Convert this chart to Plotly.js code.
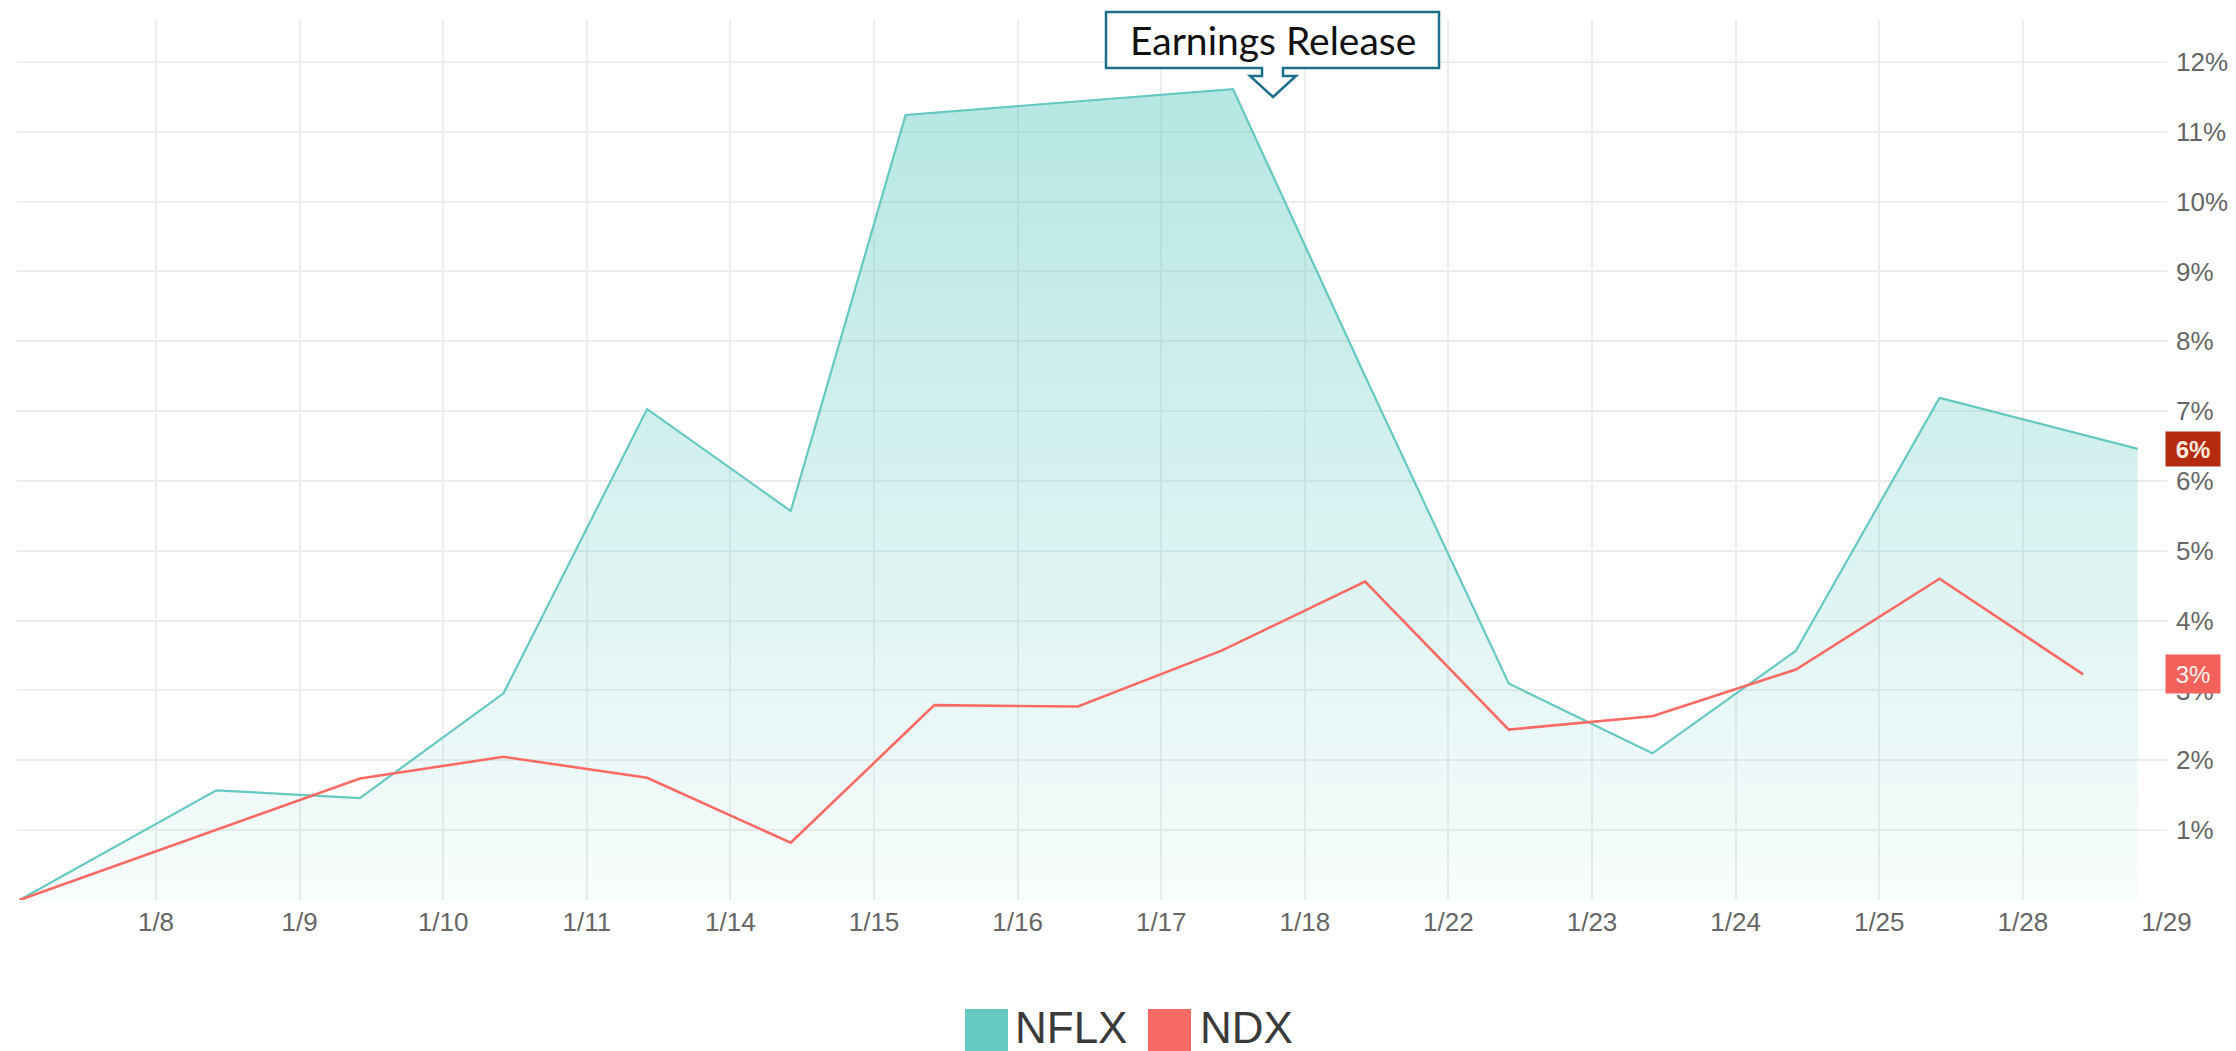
<!DOCTYPE html>
<html>
<head>
<meta charset="utf-8">
<script src="https://cdn.plot.ly/plotly-3.0.1.min.js"></script>
<style>
  html, body { margin: 0; padding: 0; background: #ffffff; }
  #chart { width: 2236px; height: 1051px; }
</style>
</head>
<body>
<div id="chart"></div>
<script>
// ---- data ----
const dateLabels = ['1/8','1/9','1/10','1/11','1/14','1/15','1/16','1/17','1/18','1/22','1/23','1/24','1/25','1/28','1/29'];
const yTickValues = [1,2,3,4,5,6,7,8,9,10,11,12];

const seriesNames = ['NFLX', 'NDX'];
const seriesColors = ['#66c9c1', '#f96a64'];

// time position in trading-day units (label i sits at i+1)
const nflxX = [0.05, 1.42, 2.42, 3.42, 4.42, 5.42, 6.22, 7.42, 8.50, 9.42, 10.42, 11.42, 12.42, 13.42, 14.80];
const nflxY = [0, 1.57, 1.46, 2.96, 7.03, 5.57, 11.24, 11.43, 11.61, 7.50, 3.10, 2.10, 3.57, 7.19, 6.46];

const ndxX = [0.05, 1.42, 2.42, 3.42, 4.42, 5.42, 6.42, 7.42, 8.42, 9.42, 10.42, 11.42, 12.42, 13.42, 14.42];
const ndxY = [0, 1.00, 1.74, 2.05, 1.75, 0.82, 2.79, 2.77, 3.57, 4.56, 2.44, 2.63, 3.30, 4.60, 3.23];

const badgeColors = ['#b42a10', '#f2625a'];
const eventLabel = 'Earnings Release';

// ---- layout helpers ----
const W = 2236, H = 1051;
const M = { l: 17, r: 69, t: 20, b: 151 };
const PW = W - M.l - M.r, PH = H - M.t - M.b;
const px2x = p => (p - M.l) / PW;
const py2y = p => (H - M.b - p) / PH;

function pathFromPx(pts) {
  return pts.map((p, i) => (i === 0 ? 'M' : 'L') + px2x(p[0]).toFixed(5) + ',' + py2y(p[1]).toFixed(5)).join(' ') + ' Z';
}

const tickFont = { family: 'Liberation Sans, Arial, sans-serif', size: 26, color: '#666666' };

const traces = [
  {
    type: 'scatter', mode: 'lines', name: seriesNames[0],
    x: nflxX, y: nflxY,
    line: { color: seriesColors[0], width: 2.2 },
    fill: 'tozeroy',
    fillgradient: {
      type: 'vertical',
      start: 0, stop: Math.max(...nflxY),
      colorscale: [[0, 'rgba(102,204,196,0.05)'], [1, 'rgba(102,204,196,0.48)']]
    },
    hoverinfo: 'skip', showlegend: false
  },
  {
    type: 'scatter', mode: 'lines', name: seriesNames[1],
    x: ndxX, y: ndxY,
    line: { color: seriesColors[1], width: 2.6 },
    hoverinfo: 'skip', showlegend: false
  }
];

// callout (box + downward arrow) around the event label
const callout = pathFromPx([
  [1106, 12], [1439, 12], [1439, 68], [1283, 68], [1283, 76], [1296, 76],
  [1273, 97], [1250, 76], [1262, 76], [1262, 68], [1106, 68]
]);

const shapes = [
  { type: 'path', xref: 'paper', yref: 'paper', path: callout,
    fillcolor: '#ffffff', line: { color: '#1d6d8b', width: 2.5 }, layer: 'above' },
  // legend swatches
  { type: 'rect', xref: 'paper', yref: 'paper',
    x0: px2x(965), x1: px2x(1008), y0: py2y(1051), y1: py2y(1009),
    fillcolor: seriesColors[0], line: { width: 0 } },
  { type: 'rect', xref: 'paper', yref: 'paper',
    x0: px2x(1148), x1: px2x(1191), y0: py2y(1051), y1: py2y(1009),
    fillcolor: seriesColors[1], line: { width: 0 } }
];

const lastNflx = nflxY[nflxY.length - 1];
const lastNdx = ndxY[ndxY.length - 1];

const annotations = [
  { xref: 'paper', yref: 'paper', x: px2x(1273), y: py2y(40), showarrow: false,
    text: eventLabel, font: { family: 'Lato, Carlito, sans-serif', size: 39, color: '#111111' },
    xanchor: 'center', yanchor: 'middle' },
  { xref: 'paper', yref: 'y', x: 1, y: lastNflx, xanchor: 'left', yanchor: 'middle', xshift: -2,
    showarrow: false, text: '<b>' + Math.round(lastNflx) + '%</b>',
    font: { family: 'Liberation Sans, Arial, sans-serif', size: 24, color: '#fde8dc' },
    bgcolor: badgeColors[0], width: 50, height: 30, borderpad: 2 },
  { xref: 'paper', yref: 'y', x: 1, y: lastNdx, xanchor: 'left', yanchor: 'middle', xshift: -2,
    showarrow: false, text: Math.round(lastNdx) + '%',
    font: { family: 'Liberation Sans, Arial, sans-serif', size: 24, color: '#fff2ef' },
    bgcolor: badgeColors[1], width: 50, height: 34, borderpad: 2 },
  // legend labels
  { xref: 'paper', yref: 'paper', x: px2x(1013), y: py2y(1027), xanchor: 'left', yanchor: 'middle',
    showarrow: false, text: seriesNames[0],
    font: { family: 'Liberation Sans, Arial, sans-serif', size: 44, color: '#3a3a3a' } },
  { xref: 'paper', yref: 'paper', x: px2x(1198), y: py2y(1027), xanchor: 'left', yanchor: 'middle',
    showarrow: false, text: seriesNames[1],
    font: { family: 'Liberation Sans, Arial, sans-serif', size: 44, color: '#3a3a3a' } }
];

const layout = {
  width: W, height: H,
  margin: { l: M.l, r: M.r, t: M.t, b: M.b, pad: 0 },
  paper_bgcolor: '#ffffff', plot_bgcolor: '#ffffff',
  showlegend: false,
  xaxis: {
    range: [0.032, 15.004],
    tickmode: 'array',
    tickvals: dateLabels.map((d, i) => i + 1),
    ticktext: dateLabels,
    showgrid: true, gridcolor: '#ededed', gridwidth: 2,
    zeroline: false, showline: false, ticks: '',
    tickfont: tickFont, ticklabelstandoff: 4, fixedrange: true
  },
  yaxis: {
    side: 'right',
    range: [0, 12.6],
    tickmode: 'array',
    tickvals: yTickValues,
    ticktext: yTickValues.map(v => v + '%'),
    showgrid: true, gridcolor: '#ededed', gridwidth: 2,
    zeroline: false, showline: false, ticks: '',
    tickfont: tickFont, ticklabelstandoff: 8, fixedrange: true
  },
  shapes: shapes,
  annotations: annotations
};

Plotly.newPlot('chart', traces, layout, { staticPlot: true, displayModeBar: false });
</script>
</body>
</html>
